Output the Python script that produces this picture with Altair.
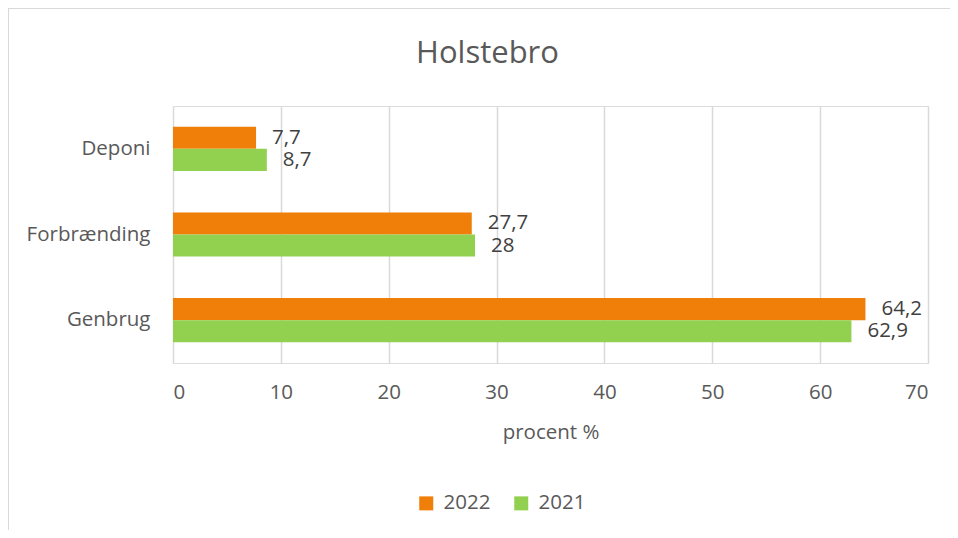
import altair as alt
import pandas as pd

categories = ["Deponi", "Forbrænding", "Genbrug"]
years = ["2022", "2021"]
values_2022 = [7.7, 27.7, 64.2]
values_2021 = [8.7, 28, 62.9]
colors = ["#F07F09", "#92D050"]
x_ticks = [0, 10, 20, 30, 40, 50, 60, 70]

rows = []
for cat, v22, v21 in zip(categories, values_2022, values_2021):
    for yr, v in (("2022", v22), ("2021", v21)):
        rows.append({"kategori": cat, "år": yr, "procent": v,
                     "label": f"{v:g}".replace(".", ",")})
df = pd.DataFrame(rows)

FONT = "Open Sans"
TXT = "#595959"
FS = 20.5

base = alt.Chart(df)

bars = base.mark_bar().encode(
    y=alt.Y("kategori:N", sort=categories, title=None,
            scale=alt.Scale(paddingInner=0.485, paddingOuter=0.2425),
            axis=alt.Axis(labelFontSize=FS, labelColor=TXT, labelFont=FONT,
                          ticks=False, domain=False, grid=False, labelPadding=23)),
    yOffset=alt.YOffset("år:N", sort=years, scale=alt.Scale(paddingInner=0, paddingOuter=0)),
    x=alt.X("procent:Q", title="procent %",
            scale=alt.Scale(domain=[0, 70], nice=False),
            axis=alt.Axis(values=x_ticks, labelFontSize=FS, labelColor=TXT, labelFont=FONT,
                          titleFontSize=FS, titleColor=TXT, titleFont=FONT, titleFontWeight="normal",
                          ticks=False, domain=False, grid=True, gridColor="#D9D9D9",
                          gridWidth=1.5, labelPadding=19, titlePadding=20)),
    color=alt.Color("år:N", sort=years,
                    scale=alt.Scale(domain=years, range=colors),
                    legend=alt.Legend(title=None, orient="none", direction="horizontal",
                                      legendX=243, legendY=387, symbolType="square",
                                      symbolSize=196, symbolStrokeWidth=0,
                                      labelFontSize=FS, labelColor=TXT, labelFont=FONT,
                                      labelOffset=7, columnPadding=20)),
)

labels = base.mark_text(align="left", baseline="middle", dx=16, fontSize=FS,
                        font=FONT, color="#404040").encode(
    y=alt.Y("kategori:N", sort=categories),
    yOffset=alt.YOffset("år:N", sort=years),
    x=alt.X("procent:Q"),
    text="label:N",
)

frame_data = alt.Data(values=[{}])
top_line = alt.Chart(frame_data).mark_rule(color="#D9D9D9", strokeWidth=1).encode(
    x=alt.value(-165), x2=alt.value(777), y=alt.value(-97.5))
left_line = alt.Chart(frame_data).mark_rule(color="#D9D9D9", strokeWidth=1).encode(
    x=alt.value(-164.5), y=alt.value(-98), y2=alt.value(424))

chart = alt.layer(bars, labels, top_line, left_line).properties(
    width=755, height=257,
    title=alt.TitleParams("Holstebro", fontSize=31, font=FONT, color=TXT,
                          fontWeight="normal", anchor="middle", dx=-63,
                          baseline="alphabetic", offset=-86),
    autosize=alt.AutoSizeParams(type="none"),
    padding={"left": 165, "top": 98, "right": 22, "bottom": 167},
).configure_view(stroke=None).configure(background="white")

chart.save("out.html", embed_options={"renderer": "svg", "actions": False})
